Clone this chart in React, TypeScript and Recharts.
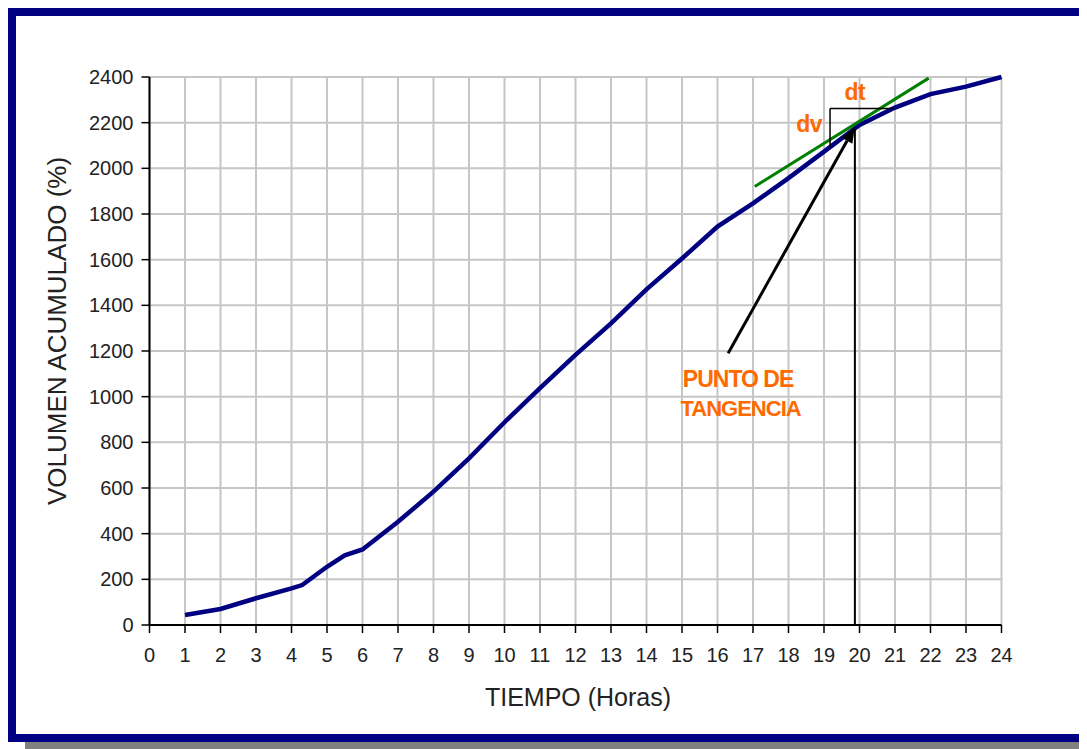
import {
  CartesianGrid,
  Label,
  Line,
  LineChart,
  ReferenceDot,
  ReferenceLine,
  XAxis,
  YAxis,
} from "recharts";

// volumen acumulado
const hours = [1, 2, 3, 4, 4.3, 5, 5.5, 6, 7, 8, 9, 10, 11, 12, 13, 14, 15, 16, 17, 18, 19, 20, 21, 22, 23, 24];
const volume = [44, 70, 117, 160, 175, 255, 305, 331, 452, 584, 730, 888, 1037, 1183, 1321, 1470, 1605, 1745, 1847, 1957, 2073, 2190, 2266, 2325, 2358, 2400];

const hourTicks = [0, 1, 2, 3, 4, 5, 6, 7, 8, 9, 10, 11, 12, 13, 14, 15, 16, 17, 18, 19, 20, 21, 22, 23, 24];
const volumeTicks = [0, 200, 400, 600, 800, 1000, 1200, 1400, 1600, 1800, 2000, 2200, 2400];

// recta tangente y triángulo dv/dt
const tangentLine = [
  { x: 17.05, y: 1920 },
  { x: 21.95, y: 2395 },
];
const dvLeg = [
  { x: 19.17, y: 2092 },
  { x: 19.17, y: 2262 },
];
const dtLeg = [
  { x: 19.17, y: 2262 },
  { x: 20.95, y: 2262 },
];
const tangentDrop = [
  { x: 19.87, y: 0 },
  { x: 19.87, y: 2172 },
];
const pointerArrow = [
  { x: 16.3, y: 1190 },
  { x: 19.87, y: 2182 },
];

const data = hours.map((h, i) => ({ h, v: volume[i] }));

const FONT = '"Liberation Sans", Arial, sans-serif';
const ORANGE = "#ff6a00";

const arrowShape = (props: any) => {
  const { x1, y1, x2, y2 } = props;
  const ang = Math.atan2(y2 - y1, x2 - x1);
  const len = 16;
  const half = 6;
  const bx = x2 - len * Math.cos(ang);
  const by = y2 - len * Math.sin(ang);
  const px = -Math.sin(ang) * half;
  const py = Math.cos(ang) * half;
  return (
    <g>
      <line x1={x1} y1={y1} x2={bx} y2={by} stroke="#000" strokeWidth={3} />
      <polygon
        points={`${x2},${y2} ${bx + px},${by + py} ${bx - px},${by - py}`}
        fill="#000"
      />
    </g>
  );
};

const textAt = (text: string, size: number, spacing = 0) => (props: any) => (
  <text
    x={props.cx}
    y={props.cy}
    textAnchor="middle"
    fill={ORANGE}
    fontFamily={FONT}
    fontWeight="bold"
    fontSize={size}
    letterSpacing={spacing}
  >
    {text}
  </text>
);

export default function App() {
  return (
    <div style={{ position: "relative", width: 1079, height: 741, overflow: "hidden" }}>
      <div
        style={{
          position: "absolute",
          left: 0,
          top: 0,
          width: 1083,
          height: 734,
          boxSizing: "border-box",
          border: "8px solid #000080",
          background: "#fff",
          boxShadow: "17px 8px 0 #808080",
        }}
      />
      <div style={{ position: "absolute", left: -8, top: -8 }}>
        <LineChart
          width={1087}
          height={749}
          data={data}
          margin={{ top: 77, right: 85.5, bottom: 14, left: 9.5 }}
        >
          <CartesianGrid stroke="#c6c6c6" strokeWidth={2} />
          <XAxis
            dataKey="h"
            type="number"
            domain={[0, 24]}
            ticks={hourTicks}
            interval={0}
            height={110}
            tickSize={8}
            tickMargin={15}
            axisLine={{ stroke: "#000", strokeWidth: 2 }}
            tickLine={{ stroke: "#000", strokeWidth: 1.5 }}
            tick={{ fill: "#222", fontSize: 20, fontFamily: FONT }}
          >
            <Label
              content={({ viewBox }: any) => (
                <text
                  x={viewBox.x + viewBox.width / 2 + 2.5}
                  y={viewBox.y + 72}
                  textAnchor="middle"
                  dominantBaseline="central"
                  fill="#222"
                  fontSize={25}
                  fontFamily={FONT}
                >
                  TIEMPO (Horas)
                </text>
              )}
            />
          </XAxis>
          <YAxis
            type="number"
            domain={[0, 2400]}
            ticks={volumeTicks}
            interval={0}
            width={140}
            tickSize={8}
            tickMargin={8}
            axisLine={{ stroke: "#000", strokeWidth: 2 }}
            tickLine={{ stroke: "#000", strokeWidth: 1.5 }}
            tick={{ fill: "#222", fontSize: 20, fontFamily: FONT }}
          >
            <Label
              content={({ viewBox }: any) => {
                const x = viewBox.x + 47.5;
                const y = 331;
                return (
                  <text
                    x={x}
                    y={y}
                    transform={`rotate(-90, ${x}, ${y})`}
                    textAnchor="middle"
                    dominantBaseline="central"
                    fill="#222"
                    fontSize={26}
                    fontFamily={FONT}
                  >
                    VOLUMEN ACUMULADO (%)
                  </text>
                );
              }}
            />
          </YAxis>
          <Line
            type="linear"
            dataKey="v"
            stroke="#000080"
            strokeWidth={4.5}
            dot={false}
            isAnimationActive={false}
          />
          <ReferenceLine segment={tangentLine} stroke="#008000" strokeWidth={3} ifOverflow="visible" />
          <ReferenceLine segment={dvLeg} stroke="#000" strokeWidth={1.5} ifOverflow="visible" />
          <ReferenceLine segment={dtLeg} stroke="#000" strokeWidth={1.5} ifOverflow="visible" />
          <ReferenceLine segment={tangentDrop} stroke="#000" strokeWidth={2} ifOverflow="visible" />
          <ReferenceLine segment={pointerArrow} shape={arrowShape} ifOverflow="visible" />
          <ReferenceDot x={18.58} y={2160} r={0} shape={textAt("dv", 23, -0.5)} ifOverflow="visible" />
          <ReferenceDot x={19.87} y={2299} r={0} shape={textAt("dt", 23, -0.5)} ifOverflow="visible" />
          <ReferenceDot x={16.58} y={1042} r={0} shape={textAt("PUNTO DE", 23, -1)} ifOverflow="visible" />
          <ReferenceDot x={16.65} y={915} r={0} shape={textAt("TANGENCIA", 22, -1)} ifOverflow="visible" />
        </LineChart>
      </div>
    </div>
  );
}
